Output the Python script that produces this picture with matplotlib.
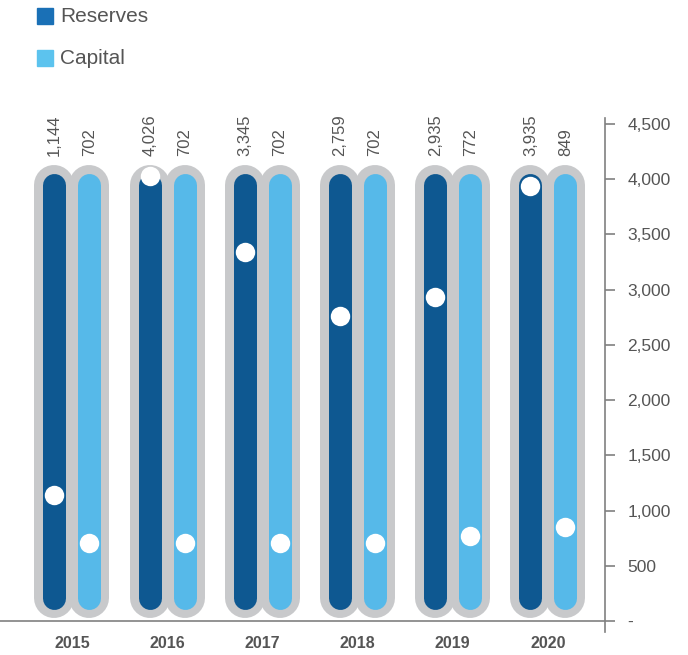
import matplotlib
matplotlib.use('Agg')
import matplotlib.pyplot as plt
from matplotlib.patches import Rectangle

years = ['2015', '2016', '2017', '2018', '2019', '2020']
reserves = [1144, 4026, 3345, 2759, 2935, 3935]
capital = [702, 702, 702, 702, 772, 849]
yticks = [0, 500, 1000, 1500, 2000, 2500, 3000, 3500, 4000, 4500]
ytick_labels = ['-', '500', '1,000', '1,500', '2,000', '2,500', '3,000', '3,500', '4,000', '4,500']

# colours
DARK = '#0e5891'
LIGHT = '#56b9e9'
DARK_KEY = '#1a70b6'
LIGHT_KEY = '#5cc3ee'
TRACK = '#c8c9cb'
TEXT = '#555555'
AXIS = '#808080'

# background track extent (data units, cap centres)
TRACK_LOW, TRACK_HIGH = 205, 3950

plt.rcParams['font.family'] = ['Liberation Sans', 'DejaVu Sans']

fig = plt.figure(figsize=(6.88, 6.55), dpi=100)
ax = fig.add_axes([0, 1 - 632 / 655, 605 / 688, (632 - 118) / 655])
ax.set_xlim(-0.756, 5.599)
ax.set_ylim(-100, 4555)

bar_w = 23 * 72 / 100
track_w = 40 * 72 / 100
off = 0.184

for i, yr in enumerate(years):
    xs = [i - off, i + off]
    # grey outline tracks
    for x in xs:
        ax.plot([x, x], [TRACK_LOW, TRACK_HIGH], color=TRACK, lw=track_w,
                solid_capstyle='round', zorder=1)
    ax.plot([xs[0], xs[0]], [TRACK_LOW, TRACK_HIGH], color=DARK, lw=bar_w,
            solid_capstyle='round', zorder=2)
    ax.plot([xs[1], xs[1]], [TRACK_LOW, TRACK_HIGH], color=LIGHT, lw=bar_w,
            solid_capstyle='round', zorder=2)
    # value markers
    ax.plot(xs[0], reserves[i], 'o', color='white', ms=14, mew=0, zorder=3)
    ax.plot(xs[1], capital[i], 'o', color='white', ms=14, mew=0, zorder=3)
    # value labels
    for x, v in zip(xs, [reserves[i], capital[i]]):
        ax.text(x, 4210, f'{v:,}', rotation=90, ha='center', va='bottom',
                fontsize=12, color=TEXT)
    ax.text(i, -140, yr, ha='center', va='top', fontsize=11.5, color=TEXT,
            fontweight='bold')

# axis styling
for s in ['left', 'top', 'bottom']:
    ax.spines[s].set_visible(False)
ax.spines['right'].set_color(AXIS)
ax.spines['right'].set_linewidth(1.2)
ax.set_xticks([])
ax.yaxis.tick_right()
ax.set_yticks(yticks)
ax.set_yticklabels(ytick_labels)
ax.tick_params(axis='y', direction='out', length=7, width=1.2, color=AXIS,
               labelsize=12.5, labelcolor=TEXT, pad=9)
ax.axhline(0, color=AXIS, lw=1.2, zorder=0)

# legend
fig.patches.append(Rectangle((37 / 688, 1 - 24 / 655), 16 / 688, 16 / 655,
                             transform=fig.transFigure, color=DARK_KEY))
fig.patches.append(Rectangle((37 / 688, 1 - 66 / 655), 16 / 688, 16 / 655,
                             transform=fig.transFigure, color=LIGHT_KEY))
fig.text(60 / 688, 1 - 17 / 655, 'Reserves', fontsize=15, color=TEXT, va='center')
fig.text(60 / 688, 1 - 59 / 655, 'Capital', fontsize=15, color=TEXT, va='center')

fig.savefig('out.png', dpi=100)
